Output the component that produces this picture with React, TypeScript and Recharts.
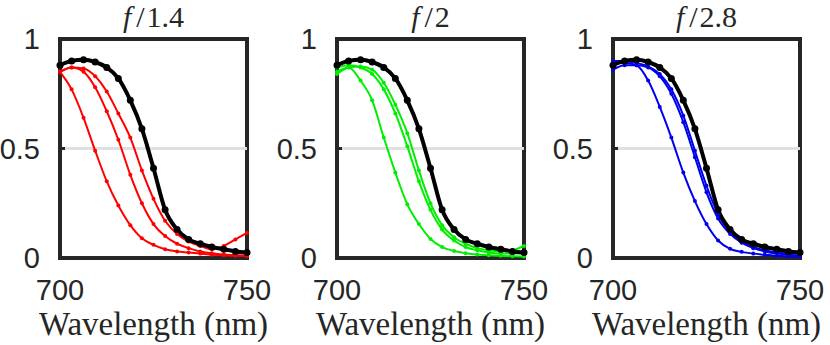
import React from 'react';
import { LineChart, Line, XAxis, YAxis, ReferenceLine, ReferenceArea } from 'recharts';

// sample wavelengths (nm)
const wavelengths = [700, 703.1, 706.3, 709.4, 712.5, 715.6, 718.8, 721.9, 725, 728.1, 731.3, 734.4, 737.5, 740.6, 743.8, 746.9, 750];

// black reference curve, same in every panel
const reference = [0.88, 0.9, 0.905, 0.895, 0.87, 0.82, 0.72, 0.59, 0.41, 0.22, 0.13, 0.085, 0.065, 0.05, 0.04, 0.03, 0.025];

// f/1.4 (red)
const redA = [0.85, 0.77, 0.64, 0.49, 0.35, 0.24, 0.15, 0.09, 0.06, 0.04, 0.03, 0.025, 0.02, 0.015, 0.012, 0.01, 0.01];
const redB = [0.85, 0.87, 0.85, 0.78, 0.67, 0.54, 0.38, 0.25, 0.155, 0.1, 0.065, 0.045, 0.03, 0.022, 0.016, 0.012, 0.01];
const redC = [0.85, 0.87, 0.865, 0.83, 0.76, 0.66, 0.55, 0.4, 0.27, 0.17, 0.11, 0.075, 0.055, 0.04, 0.055, 0.085, 0.115];

// f/2 (green)
const greenA = [0.85, 0.87, 0.81, 0.72, 0.55, 0.39, 0.245, 0.155, 0.087, 0.05, 0.032, 0.022, 0.016, 0.012, 0.01, 0.008, 0.007];
const greenB = [0.87, 0.88, 0.87, 0.84, 0.77, 0.66, 0.51, 0.35, 0.22, 0.13, 0.08, 0.05, 0.035, 0.025, 0.02, 0.02, 0.02];
const greenC = [0.84, 0.87, 0.875, 0.86, 0.8, 0.7, 0.57, 0.4, 0.25, 0.15, 0.095, 0.065, 0.045, 0.035, 0.03, 0.035, 0.055];

// f/2.8 (blue)
const blueA = [0.89, 0.89, 0.88, 0.81, 0.69, 0.55, 0.39, 0.26, 0.155, 0.08, 0.042, 0.028, 0.02, 0.015, 0.01, 0.008, 0.007];
const blueB = [0.86, 0.88, 0.88, 0.87, 0.83, 0.75, 0.62, 0.46, 0.3, 0.18, 0.11, 0.07, 0.045, 0.03, 0.02, 0.015, 0.012];
const blueC = [0.9, 0.9, 0.89, 0.875, 0.84, 0.77, 0.65, 0.49, 0.33, 0.2, 0.12, 0.075, 0.05, 0.035, 0.025, 0.02, 0.03];

const xTicks = [700, 750];
const yTicks = [0, 0.5, 1];

const DARK = '#262626';
const SANS = 'Liberation Sans';
const SERIF = 'Liberation Serif';

interface PanelProps {
  ratio: string;
  color: string;
  curves: number[][];
  left: number;
}

const Panel: React.FC<PanelProps> = ({ ratio, color, curves, left }) => {
  const data = wavelengths.map((x, i) => ({
    x,
    ref: reference[i],
    a: curves[0][i],
    b: curves[1][i],
    c: curves[2][i],
  }));

  return (
    <div style={{ position: 'absolute', left, top: 0, width: 277, height: 345 }}>
      <LineChart width={277} height={345} data={data} margin={{ top: 39, right: 0, bottom: 0, left: 0 }}>
        <XAxis
          dataKey="x"
          type="number"
          domain={[700, 750]}
          ticks={xTicks}
          axisLine={false}
          tickLine={false}
          tickSize={0}
          tickMargin={21}
          height={87}
          tick={{ fontSize: 29, fill: DARK, fontFamily: SANS }}
          label={{
            value: 'Wavelength (nm)',
            position: 'insideBottom',
            offset: 10,
            fontFamily: SERIF,
            fontSize: 33,
            fill: DARK,
          }}
        />
        <YAxis
          type="number"
          domain={[0, 1]}
          ticks={yTicks}
          width={60}
          axisLine={false}
          tickLine={{ stroke: DARK, strokeWidth: 3 }}
          tickSize={-5}
          tickMargin={25}
          tickFormatter={(v: number) => String(v)}
          tick={{ fontSize: 29, fill: DARK, fontFamily: SANS }}
        />
        <YAxis
          yAxisId="r"
          orientation="right"
          type="number"
          domain={[0, 1]}
          ticks={yTicks}
          width={30}
          axisLine={false}
          tickLine={{ stroke: DARK, strokeWidth: 3 }}
          tickSize={-5}
          tick={() => <g />}
        />
        <ReferenceLine y={0.5} stroke="#e0e0e0" strokeWidth={3} />
        <Line dataKey="a" stroke={color} strokeWidth={2} type="monotone" dot={{ r: 2, fill: color, stroke: 'none' }} isAnimationActive={false} />
        <Line dataKey="b" stroke={color} strokeWidth={2} type="monotone" dot={{ r: 2, fill: color, stroke: 'none' }} isAnimationActive={false} />
        <Line dataKey="c" stroke={color} strokeWidth={2} type="monotone" dot={{ r: 2, fill: color, stroke: 'none' }} isAnimationActive={false} />
        <Line dataKey="ref" stroke="#000" strokeWidth={4} type="monotone" dot={{ r: 3.5, fill: '#000', stroke: 'none' }} isAnimationActive={false} />
        <ReferenceArea x1={700} x2={750} y1={0} y2={1} fill="none" stroke={DARK} strokeWidth={4} ifOverflow="visible" />
      </LineChart>
      <svg width={277} height={39} style={{ position: 'absolute', left: 0, top: 0 }}>
        <text x={153.5} y={27} textAnchor="middle" fontSize={30} fontFamily={SERIF} fill={DARK}>
          <tspan fontStyle="italic">f</tspan>
          <tspan dx={5}>/</tspan>
          <tspan dx={2}>{ratio}</tspan>
        </text>
      </svg>
    </div>
  );
};

const App: React.FC = () => {
  return (
    <div style={{ position: 'absolute', left: 0, top: 0, width: 830, height: 345, background: '#fff' }}>
      <Panel ratio="1.4" color="#ff0000" curves={[redA, redB, redC]} left={0} />
      <Panel ratio="2" color="#00ee00" curves={[greenA, greenB, greenC]} left={277} />
      <Panel ratio="2.8" color="#0000ee" curves={[blueA, blueB, blueC]} left={553} />
    </div>
  );
};

export default App;
